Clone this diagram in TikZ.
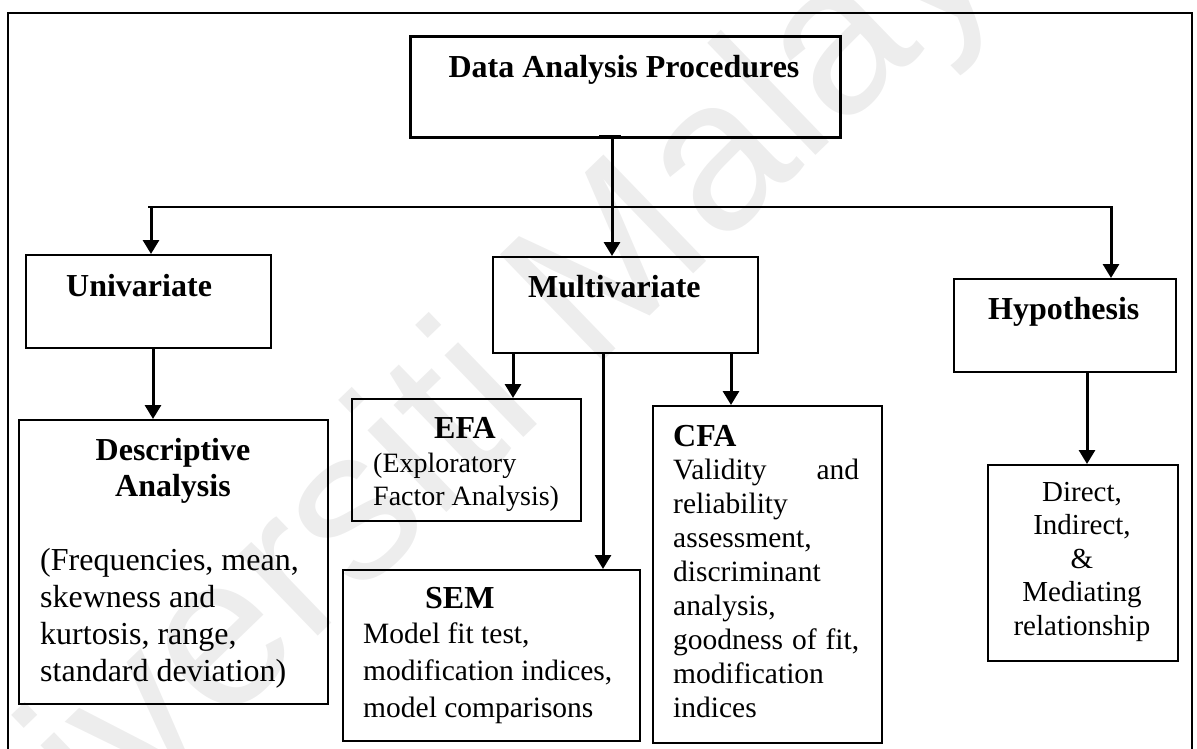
\documentclass[tikz,border=0pt]{standalone}
\usepackage{fontspec}
\setmainfont{Liberation Serif}
\newfontfamily\wmfont{Liberation Sans}
\usetikzlibrary{arrows.meta}
\begin{document}
\begin{tikzpicture}[x=1pt,y=-1pt,
  box/.style={draw, line width=2.2pt, inner sep=0pt, anchor=north west},
  conn/.style={line width=3pt},
  arr/.style={conn, -{Triangle[width=16pt,length=14pt]}},
  hd/.style={font=\fontsize{32}{36}\selectfont\bfseries, inner sep=0pt},
  body/.style={inner sep=0pt, align=left, anchor=base west},
]
\useasboundingbox (0,0) rectangle (1197,749);

% faint background watermark
\node[text=black!7, font=\wmfont\fontsize{215}{215}\selectfont, rotate=44, inner sep=0pt] (wm) at (462,420) {Universiti Malaya};

% outer frame (open at the bottom edge of the page)
\draw[line width=2pt] (8,760) -- (8,13) -- (1192,13) -- (1192,760);

% boxes
\node[box, line width=3.2pt, minimum width=430pt, minimum height=101pt] (title) at (409,35) {};
\node[box, minimum width=245pt, minimum height=93pt] (uni) at (25,254) {};
\node[box, minimum width=265pt, minimum height=96pt] (multi) at (492,256) {};
\node[box, minimum width=222pt, minimum height=93pt] (hyp) at (953,278) {};
\node[box, minimum width=309pt, minimum height=284pt] (desc) at (18,419) {};
\node[box, minimum width=229pt, minimum height=122pt] (efa) at (351,398) {};
\node[box, minimum width=297pt, minimum height=171pt] (sem) at (342,569) {};
\node[box, minimum width=229pt, minimum height=337pt] (cfa) at (652,405) {};
\node[box, minimum width=190pt, minimum height=196pt] (dir) at (987,464) {};

% box texts (multi-line nodes are placed by the baseline of their last line)
\node[hd, anchor=base] (titletxt) at (624,78) {Data Analysis Procedures};
\node[hd, anchor=base west] (unitxt) at (66,296) {Univariate};
\node[hd, anchor=base west] (multitxt) at (528,297) {Multivariate};
\node[hd, anchor=base west] (hyptxt) at (988,319) {Hypothesis};

\node[hd, anchor=base, align=center] (desctxt) at (173,496) {Descriptive\\Analysis};
\node[body, font=\fontsize{32}{37}\selectfont] (descbody) at (40,681)
  {(Frequencies, mean,\\skewness and\\kurtosis, range,\\standard deviation)};

\node[hd, anchor=base] (efatxt) at (465,438) {EFA};
\node[body, font=\fontsize{28}{33}\selectfont] (efabody) at (373,505)
  {(Exploratory\\Factor Analysis)};

\node[hd, anchor=base west] (semtxt) at (425,608) {SEM};
\node[body, font=\fontsize{29.5}{37}\selectfont] (sembody) at (363,717)
  {Model fit test,\\modification indices,\\model comparisons};

\node[hd, anchor=base west] (cfatxt) at (673,446) {CFA};
\node[body, font=\fontsize{29.5}{34}\selectfont] (cfabody) at (673,717)
  {\makebox[186pt][s]{Validity and}\\reliability\\assessment,\\discriminant\\analysis,\\\makebox[186pt][s]{goodness of fit,}\\modification\\indices};

\node[body, align=center, anchor=base, font=\fontsize{29}{33.5}\selectfont] (dirbody) at (1082,635)
  {Direct,\\Indirect,\\\&\\Mediating\\relationship};

% connectors
\coordinate (bl) at (151,207);
\coordinate (br) at (1111,207);
\coordinate (bm) at (612,207);
\draw[line width=2pt] ([xshift=-3pt]bl) -- ([xshift=1.5pt]br);
\draw[arr] (bl) -- (bl |- uni.north);
\draw[arr] (br) -- (br |- hyp.north);
\draw[arr] (title.south -| bm) -- (bm |- multi.north);
\coordinate (tk) at ([yshift=2pt]title.south -| bm);
\draw[line width=4.5pt] ([xshift=-13pt]tk) -- ([xshift=9pt]tk);

\coordinate (pD) at ([xshift=128pt]uni.south west);
\draw[arr] (pD) -- (pD |- desc.north);
\coordinate (pE) at ([xshift=21pt]multi.south west);
\draw[arr] (pE) -- (pE |- efa.north);
\coordinate (pS) at ([xshift=111pt]multi.south west);
\draw[arr] (pS) -- (pS |- sem.north);
\coordinate (pC) at ([xshift=239pt]multi.south west);
\draw[arr] (pC) -- (pC |- cfa.north);
\coordinate (pH) at ([xshift=134pt]hyp.south west);
\draw[arr] (pH) -- (pH |- dir.north);
\end{tikzpicture}
\end{document}
